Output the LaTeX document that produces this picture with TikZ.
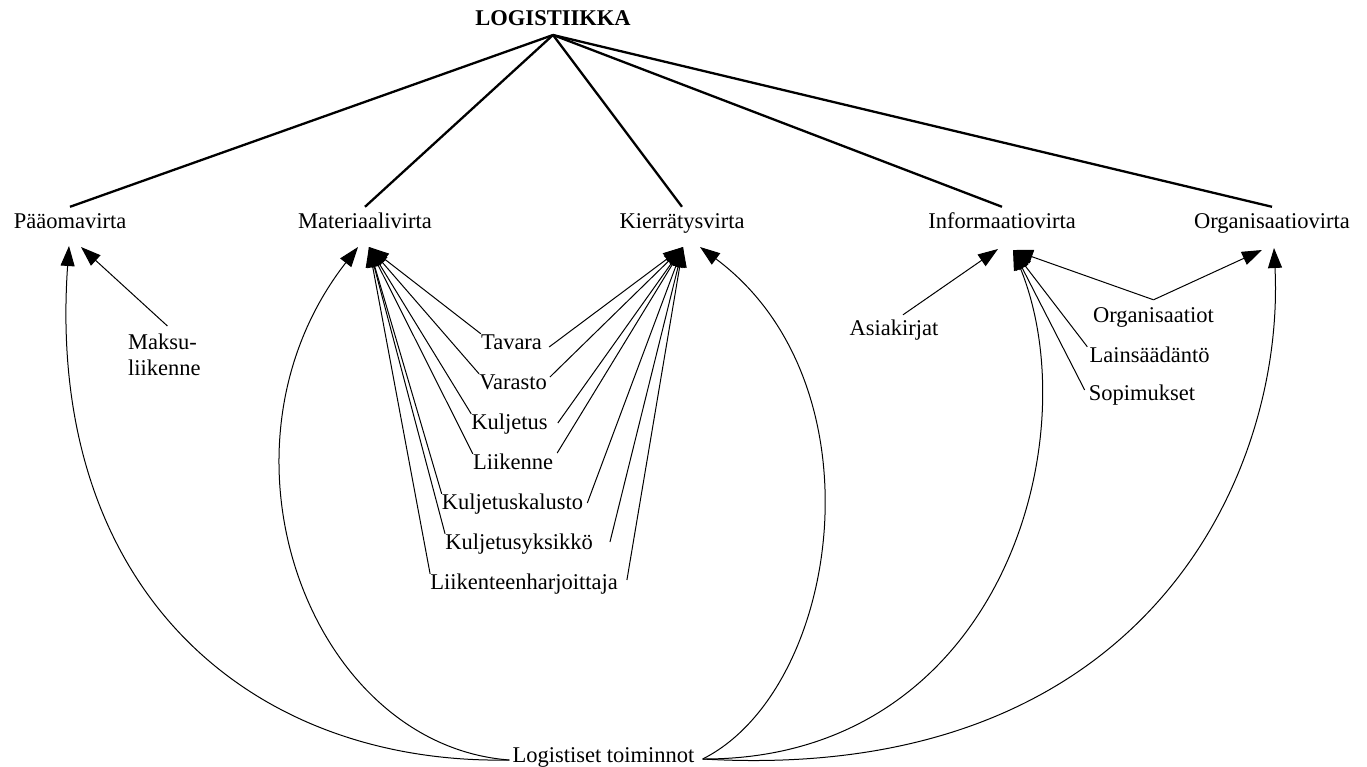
\documentclass[tikz,border=0pt]{standalone}
\usepackage{fontspec}
\setmainfont{Liberation Serif}
\usetikzlibrary{arrows.meta}
\newcommand\lblfont{\fontsize{22.5}{26}\selectfont}
\begin{document}
\begin{tikzpicture}[x=1pt,y=-1pt,
  lbl/.style={inner sep=0pt, font=\lblfont, text height=15pt, text depth=5pt, anchor=base},
  mlbl/.style={inner sep=0pt, font=\lblfont, align=left, anchor=north west},
  thickline/.style={line width=2.3pt, black},
  arr/.style={line width=1pt, black, -{Triangle[length=20pt,width=14pt]}}]
\fill[white] (0,0) rectangle (1367,767);
\useasboundingbox (0,0) rectangle (1367,767);

% top
\node[lbl, font=\lblfont\bfseries] (log) at (553,26) {LOGISTIIKKA};
\coordinate (lo) at (553,35);

% level 2
\node[lbl] (pv) at (70,229) {Pääomavirta};
\node[lbl] (mv) at (365,229) {Materiaalivirta};
\node[lbl] (kv) at (682,229) {Kierrätysvirta};
\node[lbl] (iv) at (1002,229) {Informaatiovirta};
\node[lbl] (ov) at (1272,229) {Organisaatiovirta};

\foreach \n in {pv,mv,kv,iv,ov}
  \draw[thickline] (lo) -- ([yshift=7pt]\n.north);

% arrow tips
\coordinate (pvA) at (69,246);
\coordinate (pvB) at (81,247);
\coordinate (mvA) at (358,247);
\coordinate (mvB) at (369,247);
\coordinate (kvA) at (683,247);
\coordinate (kvB) at (700,247);
\coordinate (ivA) at (998,249);
\coordinate (ivB) at (1013,250);
\coordinate (ovA) at (1262,250);
\coordinate (ovB) at (1274,248);

% Maksuliikenne
\node[mlbl] (mak) at (128,333.6) {Maksu-\\liikenne};
\draw[arr] ([xshift=3pt,yshift=7.6pt]mak.north) -- (pvB);

% material / recycling fan
\node[lbl] (tav) at (511.5,349) {Tavara};
\node[lbl] (var) at (513,389) {Varasto};
\node[lbl] (kul) at (509.5,429) {Kuljetus};
\node[lbl] (lii) at (513,469) {Liikenne};
\node[lbl] (kka) at (512.5,509) {Kuljetuskalusto};
\node[lbl] (kyk) at (519,549) {Kuljetusyksikkö};
\node[lbl] (lha) at (524,589) {Liikenteenharjoittaja};

\foreach \n in {tav,var,kul,lii,kka,kyk,lha}
  \draw[arr] (\n.north west) -- (mvB);

\draw[arr] ([xshift=7pt,yshift=-3pt]tav.east) -- (kvA);
\draw[arr] ([xshift=3pt,yshift=7pt]var.east) -- (kvA);
\draw[arr] ([xshift=10pt,yshift=1pt]kul.east) -- (kvA);
\draw[arr] ([xshift=4pt,yshift=11pt]lii.east) -- (kvA);
\draw[arr] ([xshift=4pt,yshift=1pt]kka.east) -- (kvA);
\draw[arr] ([xshift=17pt,yshift=2pt]kyk.east) -- (kvA);
\draw[arr] ([xshift=9pt,yshift=4pt]lha.east) -- (kvA);

% information
\node[lbl] (asi) at (894,335) {Asiakirjat};
\node[lbl] (org) at (1153.5,322) {Organisaatiot};
\node[lbl] (lai) at (1149.5,362) {Lainsäädäntö};
\node[lbl] (sop) at (1142,400) {Sopimukset};

\draw[arr] ([xshift=9pt,yshift=5pt]asi.north) -- (ivA);
\draw[arr] ([yshift=7pt]org.north) -- (ivB);
\draw[arr] ([yshift=7pt]org.north) -- (ovA);
\draw[arr] ([xshift=-2pt]lai.north west) -- (ivB);
\draw[arr] ([xshift=-4pt,yshift=5pt]sop.west) -- (ivB);

% logistic operations
\node[lbl] (lt) at (603.5,762) {Logistiset toiminnot};
\coordinate (ltL) at ([xshift=-3pt,yshift=-3pt]lt.west);
\coordinate (ltR) at ([xshift=8pt,yshift=-2pt]lt.east);

\draw[arr] (ltL) .. controls (250,765) and (45,590) .. (pvA);
\draw[arr] (ltL) .. controls (310,745) and (200,450) .. (mvA);
\draw[arr] (ltR) .. controls (840,690) and (885,385) .. (kvB);
\draw[arr] (ltR) .. controls (1000,760) and (1090,440) .. (ivB);
\draw[arr] (ltR) .. controls (1150,785) and (1285,470) .. (ovB);
\end{tikzpicture}
\end{document}
